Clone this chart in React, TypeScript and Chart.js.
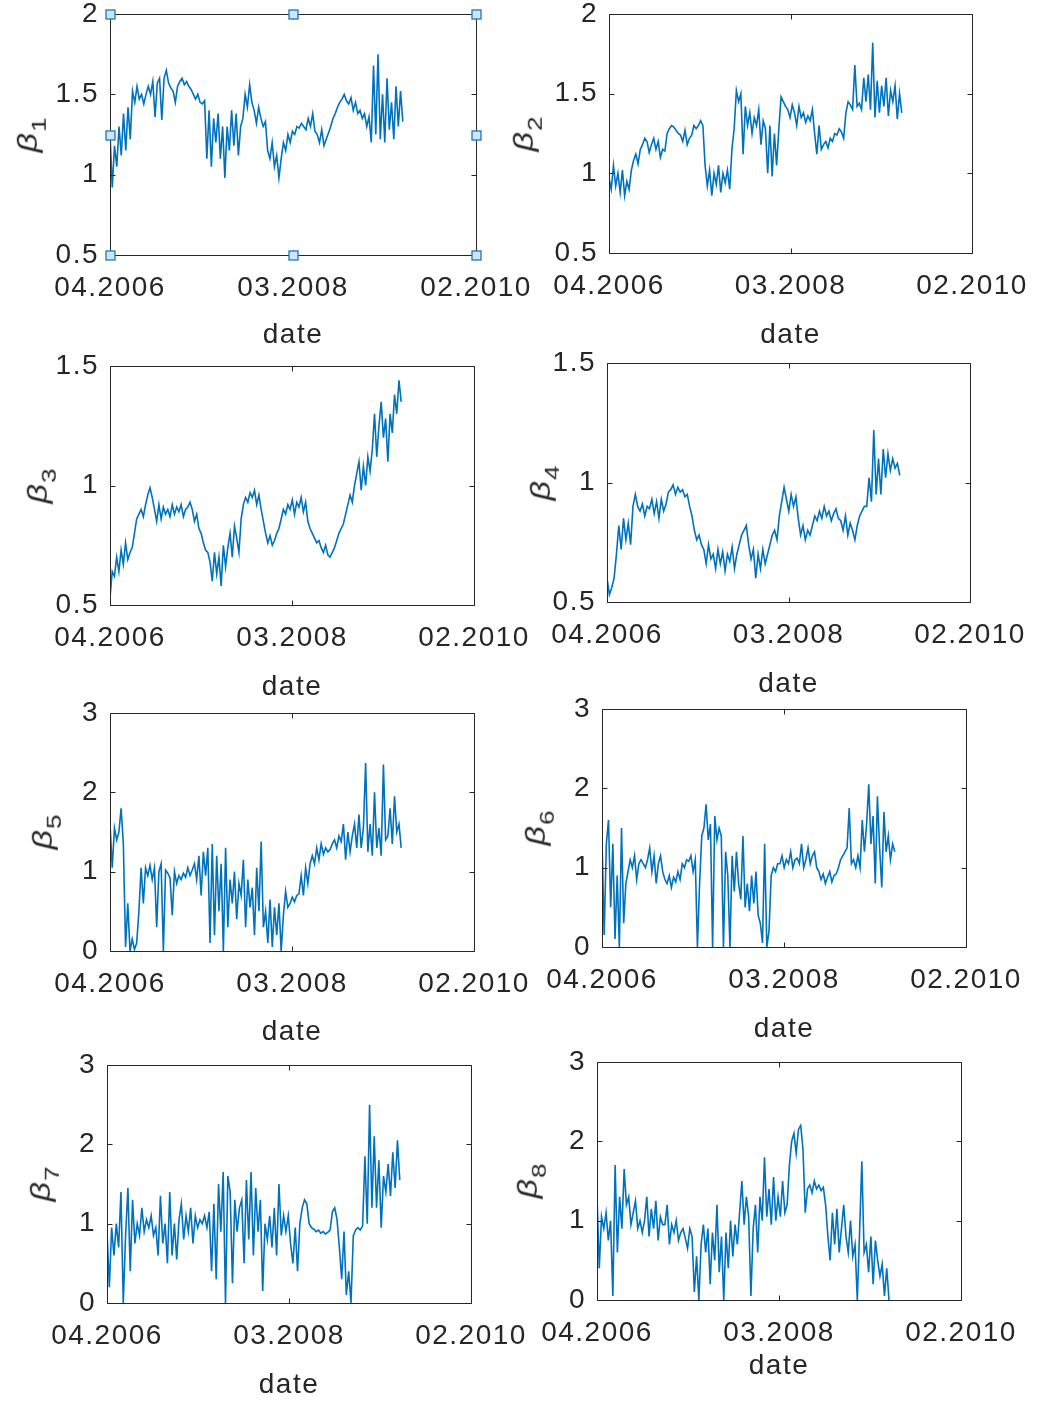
import React, { useEffect, useRef } from 'react';
import { Chart, registerables } from 'chart.js';

Chart.register(...registerables);

// ---------- data ----------
const X_TICK_LABELS = ['04.2006', '03.2008', '02.2010'];
const X_TICK_MONTHS = [0, 23, 46];
const X_AXIS_TITLE = 'date';
const Y_LABEL_SYMBOL = 'β';
const Y_LABEL_SUBSCRIPTS = ['1', '2', '3', '4', '5', '6', '7', '8'];
const END_MONTHS = [36.8, 37.1, 36.8, 37.1, 36.8, 37.0, 37.0, 36.9];

const Y_TICKS_A = [0.5, 1, 1.5, 2];
const Y_TICKS_B = [0.5, 1, 1.5];
const Y_TICKS_C = [0, 1, 2, 3];

const beta1 = [
  1.25, 0.92, 1.18, 1.05, 1.3, 1.12, 1.38, 1.15, 1.42, 1.22,
  1.52, 1.45, 1.55, 1.47, 1.5, 1.44, 1.5,
  1.55, 1.5, 1.58, 1.36, 1.57, 1.6, 1.34, 1.6,
  1.65, 1.57, 1.54, 1.52, 1.45, 1.55,
  1.58, 1.6, 1.56, 1.58, 1.55,
  1.53, 1.5, 1.47, 1.5, 1.45, 1.44, 1.46,
  1.1, 1.4, 1.05, 1.35, 1.2, 1.38, 1.1, 1.3, 0.98,
  1.3, 1.15, 1.4, 1.18, 1.38, 1.12, 1.3,
  1.35, 1.5, 1.42, 1.56, 1.45,
  1.4, 1.32, 1.42, 1.35, 1.3, 1.33,
  1.15, 1.1, 1.2, 1.05, 1.12, 0.98,
  1.1, 1.2, 1.15, 1.25, 1.2, 1.27, 1.25, 1.3, 1.29,
  1.32, 1.3, 1.28, 1.35, 1.3, 1.38, 1.27,
  1.25, 1.2, 1.28, 1.18, 1.22, 1.26,
  1.3, 1.35, 1.38, 1.42, 1.45, 1.47, 1.5,
  1.46, 1.44, 1.48, 1.4, 1.45, 1.38,
  1.4, 1.35, 1.38, 1.3, 1.36,
  1.2, 1.68, 1.25, 1.75, 1.22,
  1.5, 1.2, 1.6, 1.28, 1.45, 1.22, 1.55, 1.3, 1.52, 1.33,
];

const beta2 = [
  0.97, 0.9, 1.05, 0.92, 1.0, 0.88, 1.02, 0.86, 0.95, 0.9,
  1.02, 1.08, 1.12, 1.06, 1.15, 1.18, 1.22,
  1.2, 1.13, 1.18, 1.22, 1.15, 1.2, 1.1, 1.15, 1.14,
  1.25, 1.28, 1.3, 1.29, 1.27, 1.25,
  1.24, 1.2, 1.27, 1.18, 1.22, 1.24, 1.3,
  1.28, 1.3, 1.33, 1.3,
  1.05, 0.92, 1.02, 0.86, 1.0, 0.93, 1.05, 0.88, 1.0, 0.94, 1.02, 0.9,
  1.15, 1.28,
  1.52, 1.45, 1.5,
  1.12, 1.42, 1.3, 1.38, 1.25, 1.35, 1.3, 1.4, 1.18, 1.33, 1.28,
  1.0, 1.3, 0.98, 1.25, 1.05, 1.28,
  1.48, 1.45, 1.42,
  1.4, 1.35, 1.43, 1.38, 1.3, 1.42, 1.35, 1.38, 1.32, 1.36, 1.33, 1.4,
  1.25, 1.12, 1.3, 1.15,
  1.18, 1.2, 1.16, 1.22, 1.2, 1.25, 1.24, 1.28, 1.26, 1.22,
  1.38, 1.45, 1.43,
  1.4, 1.68, 1.42, 1.44, 1.4, 1.6,
  1.45, 1.62, 1.4, 1.82, 1.35,
  1.58, 1.38, 1.55, 1.42, 1.6, 1.36, 1.52, 1.45, 1.55, 1.34, 1.5, 1.38,
];

const beta3 = [
  0.53, 0.64,
  0.62, 0.7, 0.64, 0.73, 0.67, 0.76, 0.69, 0.72, 0.74,
  0.8, 0.86, 0.88, 0.9, 0.87, 0.92,
  0.96, 0.99, 0.95,
  0.9, 0.85, 0.92, 0.86, 0.91, 0.88,
  0.9, 0.87, 0.92, 0.88, 0.91, 0.89, 0.92, 0.87, 0.9, 0.91, 0.93, 0.9,
  0.85, 0.88, 0.82, 0.8, 0.76, 0.73, 0.72,
  0.68, 0.6, 0.72, 0.63, 0.7, 0.58, 0.75, 0.66,
  0.74, 0.8, 0.7, 0.83, 0.78, 0.72,
  0.86, 0.92, 0.95,
  0.93, 0.97, 0.95, 0.98, 0.92, 0.96,
  0.9, 0.85, 0.8, 0.76, 0.79, 0.75,
  0.77, 0.8, 0.82,
  0.86, 0.9, 0.88, 0.92,
  0.9, 0.94, 0.88, 0.93, 0.91, 0.95, 0.89, 0.93,
  0.85, 0.82,
  0.8, 0.78, 0.76, 0.77, 0.74, 0.72, 0.75, 0.71, 0.7,
  0.72, 0.74, 0.77, 0.8, 0.82, 0.84,
  0.88, 0.92, 0.96, 0.93, 1.0, 1.05,
  1.1, 0.98, 1.08, 1.0, 1.12, 1.06,
  1.15, 1.3, 1.12, 1.25, 1.35, 1.2, 1.28, 1.1,
  1.3, 1.22, 1.38, 1.3, 1.44, 1.35,
];

const beta4 = [
  0.6, 0.53, 0.56, 0.6,
  0.7, 0.82, 0.72, 0.85, 0.76, 0.83, 0.74,
  0.9, 0.95,
  0.9, 0.88, 0.91, 0.86, 0.9, 0.89,
  0.93, 0.87, 0.92, 0.85, 0.93, 0.88, 0.91,
  0.96, 0.97, 0.99, 0.95, 0.98, 0.96, 0.97, 0.94, 0.95,
  0.9, 0.86, 0.8, 0.76, 0.78, 0.74,
  0.72, 0.66, 0.74, 0.68, 0.7, 0.64, 0.72, 0.66, 0.71, 0.63, 0.7, 0.67, 0.73, 0.64, 0.7,
  0.74, 0.78, 0.8, 0.82,
  0.74, 0.68, 0.72, 0.6, 0.7, 0.64, 0.72, 0.66, 0.7,
  0.74, 0.78, 0.8, 0.76,
  0.86, 0.92, 0.98,
  0.93, 0.88, 0.95, 0.9, 0.94,
  0.85, 0.78, 0.82, 0.76, 0.8, 0.78,
  0.82, 0.86, 0.84, 0.88, 0.85, 0.9, 0.86, 0.88, 0.84, 0.87, 0.89, 0.85,
  0.84, 0.8, 0.86, 0.78, 0.83, 0.8, 0.76,
  0.82, 0.86, 0.88, 0.9,
  0.9, 1.02, 0.92, 1.22, 0.95,
  1.1, 0.95, 1.14, 1.02, 1.12, 1.05,
  1.1, 1.06, 1.08, 1.03,
];

const beta5 = [
  1.6, 1.05, 1.55, 1.4, 1.5, 1.8,
  1.35,
  0.05, 0.6, 0.0, 0.15, 0.02, 0.1,
  0.5, 1.05, 0.6,
  1.05, 0.95, 1.08, 0.9, 1.05, 0.3, 1.0, 1.1, 0.0, 1.02,
  0.98, 0.92, 0.45, 1.0, 0.85, 0.95, 0.9, 0.98, 0.93, 1.05, 0.95, 1.02,
  1.1, 0.9, 1.2, 0.7, 1.25, 0.95, 1.3,
  0.1, 1.35, 0.2, 1.2, 0.5, 1.1, 0.0, 1.3, 0.3, 0.9,
  0.6, 1.0, 0.4, 0.85, 0.7, 1.15, 0.3, 0.9, 0.55,
  0.8, 0.2, 1.05, 0.5, 1.38, 0.3,
  0.5, 0.1, 0.65, 0.05, 0.55, 0.2, 0.6, 0.0, 0.45,
  0.75, 0.55, 0.6, 0.68, 0.62, 0.7,
  0.72, 0.95, 0.7, 1.05, 0.85, 1.1,
  1.2, 1.1, 1.3, 1.15, 1.35, 1.22, 1.3, 1.25, 1.28,
  1.35, 1.4, 1.3, 1.45, 1.38, 1.6,
  1.15, 1.5, 1.25, 1.45, 1.6, 1.3, 1.72,
  1.3, 1.55, 2.37, 1.25, 1.6, 1.2,
  2.0, 1.3, 1.55, 1.2, 2.35, 1.4,
  1.45, 1.8, 1.35, 1.95, 1.5, 1.6, 1.3,
];

const beta6 = [
  1.35, 0.15, 1.3, 1.6, 0.5, 1.3, 0.1, 0.9, 0.0, 1.5, 0.3, 0.8,
  0.95, 1.1, 1.0, 1.15, 0.85, 1.05, 1.1,
  1.05, 1.0, 1.1, 1.25, 0.95, 1.15, 0.8, 1.05, 1.15,
  0.95, 0.85, 0.8, 0.9, 0.75, 0.88, 0.82, 0.95, 0.85,
  1.05, 1.0, 1.1, 1.08, 1.15, 0.95,
  1.1, 0.0, 0.8,
  1.4, 1.5, 1.8, 1.35, 1.55, 0.0,
  1.65, 1.35, 1.5, 1.4, 0.0, 1.2,
  0.9, 0.0, 1.15, 0.7, 1.2, 0.8,
  0.6, 1.4, 0.5, 0.8, 0.45, 0.9, 0.55, 0.95, 0.4,
  0.3, 0.05, 1.3, 0.0, 0.2,
  0.9, 1.0, 0.95, 1.05,
  1.05, 1.15, 1.0, 1.1, 1.05, 1.2, 1.0, 1.1, 1.12, 1.05, 1.3, 1.0,
  1.1, 1.25, 1.05, 1.15, 1.2, 1.0,
  0.95, 0.85, 0.92, 0.8, 0.88, 0.95, 0.82, 0.9, 0.92,
  1.0, 1.1, 1.15, 1.2, 1.25,
  1.75,
  1.05, 1.1, 1.0, 1.15, 1.0, 1.6,
  1.2, 1.55, 2.05, 1.3, 1.65,
  0.8, 1.9, 1.25, 0.75, 1.7, 1.2,
  1.4, 1.1, 1.3, 1.2,
];

const beta7 = [
  0.9, 0.2, 0.95, 0.6, 1.0, 0.7,
  1.4, 0.0,
  0.85, 1.45, 0.4, 1.3, 0.75,
  1.0, 0.85, 1.2, 0.9, 1.05, 0.95, 1.1, 0.85, 0.95,
  0.6, 1.35, 0.75, 1.0, 0.5, 1.4, 0.6, 1.0, 0.55,
  1.05, 1.25, 0.8, 1.1, 0.9, 1.2, 0.75, 1.1, 0.95, 1.05,
  1.0, 1.1, 0.95, 1.15, 0.4, 1.25, 0.3,
  1.5, 0.9, 1.65, 0.0, 1.6,
  1.4, 0.25, 1.3, 0.9, 1.2,
  1.3, 0.5, 1.55, 0.8, 1.65, 0.6, 1.45,
  0.9, 1.3, 0.15, 1.0, 0.8, 1.1,
  0.7, 1.2, 0.6, 1.5, 0.85, 1.1,
  0.9, 1.1, 0.75, 0.5, 0.95, 0.4, 1.0,
  1.2, 1.3, 1.25,
  1.0, 0.95, 0.93, 0.9, 0.92, 0.88, 0.9, 0.87, 0.89, 0.92,
  1.15, 1.2, 1.05,
  0.7, 0.3, 0.9, 0.1, 0.4, 0.0,
  0.85, 0.92, 0.95, 0.92, 0.97,
  1.85, 1.0, 2.5, 1.2,
  2.1, 1.2, 1.8, 0.95, 1.6,
  1.4, 1.75, 1.35, 1.9, 1.45, 2.05, 1.55,
];

const beta8 = [
  1.3, 0.4, 1.05, 0.9, 1.1, 0.75, 1.0,
  0.05, 1.7,
  0.6, 1.3, 0.9, 1.65,
  1.2, 1.3, 0.95, 1.1, 1.25, 0.9, 1.0,
  0.85, 1.0, 1.3, 0.8, 1.15, 0.9, 1.25, 0.75, 1.05, 0.95,
  0.95, 1.2, 0.7, 0.95, 0.85, 1.0, 0.75, 0.85, 0.9, 0.78, 0.65, 0.9,
  0.8, 0.1, 0.55, 0.0, 0.7, 0.95,
  0.6, 0.9, 0.2, 0.85, 0.5, 1.2, 0.35, 0.8, 0.0,
  0.85, 0.4, 1.0, 0.55, 0.95, 0.7,
  1.1, 1.5, 0.95, 1.3, 1.05, 0.05,
  0.9, 1.2, 0.6, 1.3, 1.0, 1.8,
  1.05, 1.4, 0.95, 1.55, 1.0, 1.3, 1.05, 1.5, 1.1, 1.2,
  1.7, 2.0,
  2.1, 1.85, 2.15, 2.2, 1.9,
  1.1, 1.4,
  1.45, 1.35, 1.5, 1.4, 1.45, 1.38, 1.42,
  1.2, 0.8, 0.5, 1.1, 0.7, 1.15, 0.6, 0.9, 1.2,
  0.8, 0.6, 1.0, 0.55, 0.7, 0.0, 0.85,
  1.75, 0.6,
  0.7, 0.35, 0.8, 0.2, 0.75, 0.5,
  0.3, 0.45, 0.05, 0.4, 0.0,
];

const SERIES = [beta1, beta2, beta3, beta4, beta5, beta6, beta7, beta8];
const Y_TICKS = [Y_TICKS_A, Y_TICKS_A, Y_TICKS_B, Y_TICKS_B, Y_TICKS_C, Y_TICKS_C, Y_TICKS_C, Y_TICKS_C];

// ---------- layout / style ----------
const TEXT = '#262626';
const AXIS = '#262626';
const LINE = '#0072BD';
const FONT_FAMILY = "'Liberation Sans', Arial, Helvetica, sans-serif";
const FONT_SIZE = 28;

const PANELS = [
  { L: 110, T: 14, R: 476, B: 255, betaX: 27, padB: 97, handles: true },
  { L: 609, T: 14, R: 972, B: 253, betaX: 523, padB: 99, handles: false },
  { L: 110, T: 366, R: 474, B: 605, betaX: 37, padB: 99, handles: false },
  { L: 607, T: 363, R: 970, B: 602, betaX: 540, padB: 99, handles: false },
  { L: 110, T: 713, R: 474, B: 951, betaX: 42, padB: 98, handles: false },
  { L: 602, T: 709, R: 966, B: 947, betaX: 535, padB: 99, handles: false },
  { L: 107, T: 1065, R: 471, B: 1303, betaX: 40, padB: 99, handles: false },
  { L: 597, T: 1062, R: 961, B: 1300, betaX: 527, padB: 83, handles: false },
];

const PAD_L = 105;
const PAD_T = 40;
const PAD_R = 80;

const framePlugin = {
  id: 'frame',
  beforeDraw(chart: any) {
    chart.ctx.letterSpacing = '1.5px';
  },
  afterDatasetsDraw(chart: any, _args: any, opts: any) {
    const { ctx, chartArea: a, scales } = chart;
    ctx.save();
    ctx.letterSpacing = '0px';
    ctx.strokeStyle = AXIS;
    ctx.lineWidth = 1;
    const l = Math.round(a.left) + 0.5;
    const r = Math.round(a.right) + 0.5;
    const t = Math.round(a.top) + 0.5;
    const b = Math.round(a.bottom) + 0.5;
    ctx.beginPath();
    ctx.rect(l, t, r - l, b - t);
    const tl = 5;
    scales.y.ticks.forEach((tk: any) => {
      const y = Math.round(scales.y.getPixelForValue(tk.value)) + 0.5;
      ctx.moveTo(l, y);
      ctx.lineTo(l + tl, y);
      ctx.moveTo(r, y);
      ctx.lineTo(r - tl, y);
    });
    scales.x.ticks.forEach((tk: any) => {
      const x = Math.round(scales.x.getPixelForValue(tk.value)) + 0.5;
      ctx.moveTo(x, b);
      ctx.lineTo(x, b - tl);
      ctx.moveTo(x, t);
      ctx.lineTo(x, t + tl);
    });
    ctx.stroke();
    if (opts && opts.handles) {
      const mx = Math.round((a.left + a.right) / 2) + 0.5;
      const my = Math.round((a.top + a.bottom) / 2) + 0.5;
      const pts = [
        [l, t], [mx, t], [r, t],
        [l, my], [r, my],
        [l, b], [mx, b], [r, b],
      ];
      const s = 9;
      ctx.lineWidth = 1.3;
      ctx.fillStyle = '#cfe6f8';
      ctx.strokeStyle = '#1f74c0';
      pts.forEach(([px, py]) => {
        ctx.fillRect(px - s / 2, py - s / 2, s, s);
        ctx.strokeRect(px - s / 2, py - s / 2, s, s);
      });
    }
    ctx.restore();
  },
};

function Panel({ idx }: { idx: number }) {
  const ref = useRef<HTMLCanvasElement | null>(null);
  const p = PANELS[idx];
  const W = p.R - p.L;
  const H = p.B - p.T;
  const cw = PAD_L + W + PAD_R;
  const ch = PAD_T + H + p.padB;
  const mid = (p.T + p.B) / 2;

  useEffect(() => {
    if (!ref.current) return;
    const values = SERIES[idx];
    const end = END_MONTHS[idx];
    const data = values.map((v, i) => ({ x: (i * end) / (values.length - 1), y: v }));
    const yTicks = Y_TICKS[idx];
    const font = { family: FONT_FAMILY, size: FONT_SIZE, weight: 'normal' as const };
    const chart = new Chart(ref.current, {
      type: 'line',
      data: {
        datasets: [
          {
            data,
            borderColor: LINE,
            borderWidth: 1.6,
            pointRadius: 0,
            tension: 0,
            fill: false,
          },
        ],
      },
      options: {
        responsive: false,
        maintainAspectRatio: false,
        animation: false,
        events: [],
        layout: { padding: { left: 0, top: PAD_T, right: PAD_R, bottom: 0 } },
        plugins: {
          legend: { display: false },
          tooltip: { enabled: false },
          frame: { handles: p.handles },
        } as any,
        scales: {
          x: {
            type: 'linear',
            min: X_TICK_MONTHS[0],
            max: X_TICK_MONTHS[X_TICK_MONTHS.length - 1],
            grid: { display: false, drawTicks: false },
            border: { display: false },
            afterBuildTicks: (s: any) => {
              s.ticks = X_TICK_MONTHS.map((v) => ({ value: v }));
            },
            afterFit: (s: any) => {
              s.height = p.padB;
            },
            ticks: {
              autoSkip: false,
              maxRotation: 0,
              minRotation: 0,
              padding: 16,
              color: TEXT,
              font,
              callback: (v: any) => {
                const k = X_TICK_MONTHS.indexOf(Number(v));
                return k >= 0 ? X_TICK_LABELS[k] : '';
              },
            },
            title: {
              display: true,
              text: X_AXIS_TITLE,
              color: TEXT,
              font,
              padding: { top: 0, bottom: 0 },
            },
          },
          y: {
            type: 'linear',
            min: yTicks[0],
            max: yTicks[yTicks.length - 1],
            grid: { display: false, drawTicks: false },
            border: { display: false },
            afterBuildTicks: (s: any) => {
              s.ticks = yTicks.map((v) => ({ value: v }));
            },
            afterFit: (s: any) => {
              s.width = PAD_L;
            },
            ticks: {
              autoSkip: false,
              padding: 11,
              color: TEXT,
              font,
              callback: (v: any) => String(v),
            },
          },
        },
      } as any,
      plugins: [framePlugin as any],
    });
    return () => chart.destroy();
  }, [idx]);

  return (
    <>
      <canvas
        ref={ref}
        width={cw}
        height={ch}
        style={{
          position: 'absolute',
          left: p.L - PAD_L,
          top: p.T - PAD_T,
          width: cw,
          height: ch,
        }}
      />
      <div
        style={{
          position: 'absolute',
          left: p.betaX,
          top: mid,
          fontFamily: FONT_FAMILY,
          fontSize: 34,
          lineHeight: 1,
          color: TEXT,
          whiteSpace: 'nowrap',
          transform: 'translate(-50%, -50%) rotate(-90deg) scale(1, 0.8)',
        }}
      >
        <span style={{ fontStyle: 'italic' }}>{Y_LABEL_SYMBOL}</span>
        <span style={{ fontSize: 26, position: 'relative', top: 11, marginLeft: 1 }}>
          {Y_LABEL_SUBSCRIPTS[idx]}
        </span>
      </div>
    </>
  );
}

export default function App() {
  return (
    <div
      style={{
        position: 'absolute',
        left: 0,
        top: 0,
        width: 1037,
        height: 1403,
        background: '#ffffff',
        overflow: 'hidden',
      }}
    >
      {PANELS.map((_, i) => (
        <Panel key={i} idx={i} />
      ))}
    </div>
  );
}
